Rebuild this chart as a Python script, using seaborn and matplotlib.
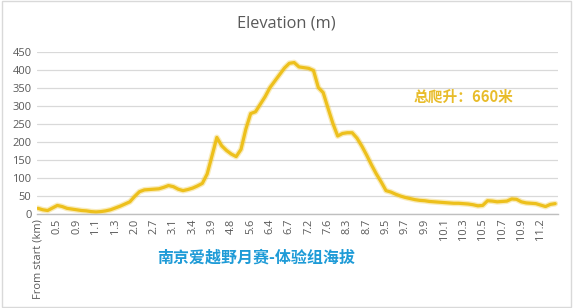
import matplotlib
matplotlib.use("Agg")
import matplotlib.pyplot as plt
import numpy as np
import pandas as pd
import seaborn as sns
from matplotlib.patches import Rectangle

# elevation samples (m), evenly spaced along the route, 4 samples per labelled tick
elevation = [17, 13, 11, 18, 25, 22, 17, 15, 13, 11,
             10, 8, 7, 8, 10, 13, 18, 23, 29, 35,
             50, 63, 68, 69, 70, 71, 75, 80, 77, 70,
             66, 69, 73, 79, 86, 112, 162, 213, 190, 177,
             167, 160, 180, 236, 279, 284, 305, 326, 351, 369,
             387, 405, 418, 420, 408, 406, 404, 398, 351, 337,
             294, 252, 217, 224, 226, 226, 211, 189, 164, 137,
             112, 90, 66, 62, 56, 51, 47, 44, 41, 39,
             38, 36, 35, 34, 33, 32, 31, 31, 30, 29,
             27, 24, 25, 38, 37, 35, 36, 37, 43, 42,
             35, 32, 31, 30, 26, 22, 28, 30]

tick_labels = ["From start (km)", "0.5", "0.9", "1.1", "1.3", "2.0", "2.7", "3.1",
               "3.4", "3.9", "4.8", "5.6", "6.4", "6.7", "7.2", "7.6", "8.3", "8.7",
               "9.5", "9.7", "9.9", "10.1", "10.3", "10.5", "10.7", "10.9", "11.2"]
label_step = 4

title = "Elevation (m)"
gain_note = "总爬升：660米"
caption = "南京爱越野月赛-体验组海拔"

df = pd.DataFrame({"idx": np.arange(len(elevation)), "elev": elevation})

sns.set_style("white")
plt.rcParams["font.family"] = ["Open Sans", "Noto Sans CJK SC", "DejaVu Sans"]

fig = plt.figure(figsize=(5.73, 3.08), dpi=100)
ax = fig.add_axes([0.0646, 0.3036, 0.9094, 0.5285])

line_col = "#EDC01C"
sns.lineplot(data=df, x="idx", y="elev", ax=ax, color=line_col, linewidth=4.2, alpha=0.3)
sns.lineplot(data=df, x="idx", y="elev", ax=ax, color=line_col, linewidth=2.3)

ax.set_ylim(0, 450)
ax.set_yticks(np.arange(0, 451, 50))
ax.set_xlim(-0.2, 107.6)
ax.set_xticks(np.arange(len(tick_labels)) * label_step)
ax.set_xticklabels(tick_labels, rotation=90)
ax.set_xlabel("")
ax.set_ylabel("")

ax.grid(axis="y", color="#d9d9d9", linewidth=0.9)
ax.set_axisbelow(True)
for s in ["left", "right", "top"]:
    ax.spines[s].set_visible(False)
ax.spines["bottom"].set_color("#bfbfbf")
ax.spines["bottom"].set_linewidth(1.0)
ax.tick_params(axis="both", length=0, colors="#595959")
ax.tick_params(axis="y", labelsize=8, pad=4)
ax.tick_params(axis="x", labelsize=7.9, pad=3)

fig.text(0.5, 0.925, title, ha="center", va="center", fontsize=11.8, color="#595959")
ax.text(0.722, 0.72, gain_note, transform=ax.transAxes, ha="left", va="center",
        fontsize=10.6, fontweight="bold", color="#E8BC2A",
        family=["Noto Sans CJK SC", "DejaVu Sans"])
fig.text(0.447, 0.163, caption, ha="center", va="center", fontsize=11.5,
         fontweight="bold", color="#1E9BD7",
         family=["Noto Sans CJK SC", "DejaVu Sans"])

fig.patches.append(Rectangle((0.003, 0.003), 0.994, 0.994, transform=fig.transFigure,
                             fill=False, edgecolor="#d9d9d9", linewidth=1.0))

fig.savefig("out.png", dpi=100)
